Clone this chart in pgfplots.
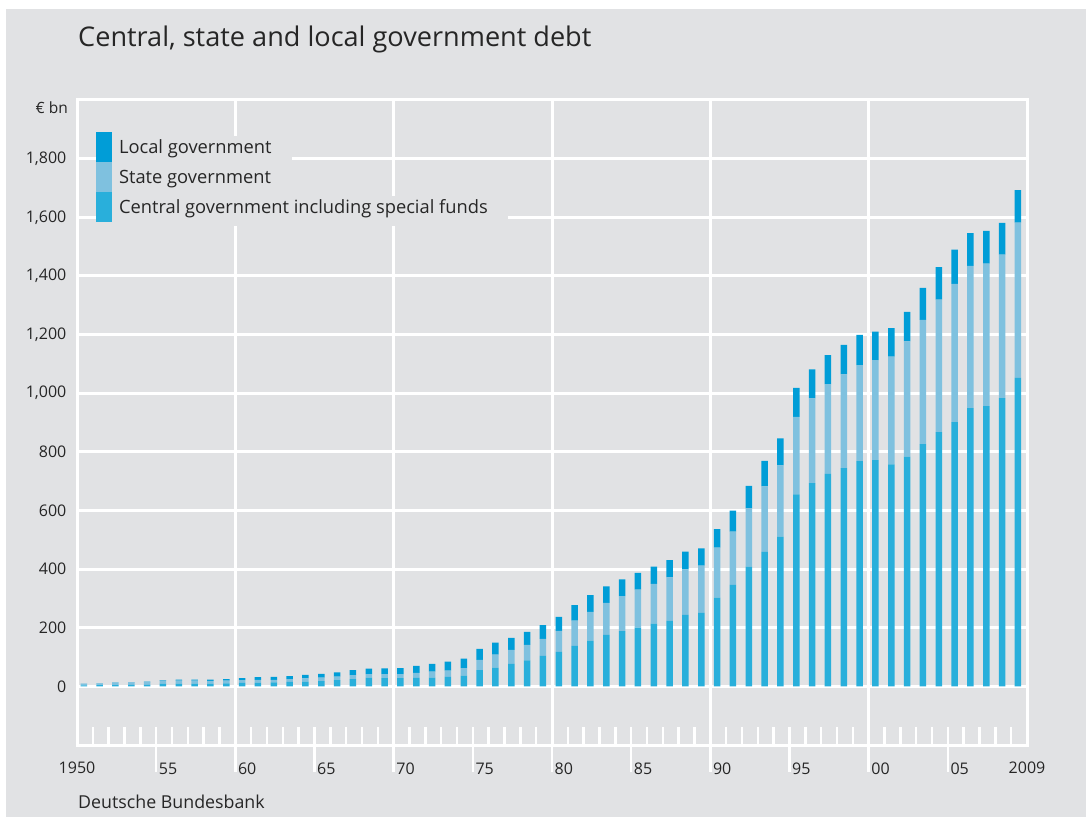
\documentclass[border=0pt]{standalone}
\usepackage{fontspec}
\setmainfont{Open Sans}
\usepackage{pgfplots}
\usepackage{pgfplotstable}
\pgfplotsset{compat=1.18}
\definecolor{bgc}{HTML}{E1E2E4}
\definecolor{cen}{HTML}{29AFDB}
\definecolor{sta}{HTML}{7FC1DF}
\definecolor{loc}{HTML}{009DD7}
\definecolor{txt}{HTML}{262626}
\pgfplotsset{leg/.style={legend image code/.code={\fill[##1,draw=none,overlay] (0pt,-10.4pt) rectangle (16pt,19.6pt); \path (0pt,0pt) rectangle (16pt,0pt);}}}
\pgfplotstableread{
year central state local
1950 3.5 5.5 0.5
1951 4 5.5 0.5
1952 4.5 7 1
1953 5 8.5 1.3
1954 5.5 9 1.5
1955 9 10.5 2
1956 9.5 10.5 2.7
1957 9.5 10 3.2
1958 9.5 9.5 4
1959 10.5 9 5.5
1960 12 9 7
1961 13 9.5 9
1962 13.5 9 9.5
1963 15 9.5 10.5
1964 16.5 10.5 12.5
1965 18 11.5 12.7
1966 21.6 11.4 14.8
1967 25 13.7 17.1
1968 29.5 12.6 18.2
1969 28.4 13.7 19.4
1970 28 14 20
1971 29 17 23.5
1972 30 20 26.3
1973 32 21.5 30.8
1974 36.4 26.2 32
1975 55.8 34.2 37.7
1976 63.8 44.5 41
1977 76.3 47.9 41.1
1978 89 52.3 44.5
1979 103.7 58.2 46.8
1980 118 71 48
1981 138 86 53
1982 156 98 57
1983 176 109 56
1984 188 120 57
1985 200 130 57
1986 214 136 58
1987 223 149 59
1988 244 155 61
1989 251 161 59
1990 303 170 63
1991 346 182 71
1992 408 199 77
1993 459 223 87
1994 511 243 92
1995 655 264 99
1996 693 289 99
1997 725 306 99
1998 744 320 101
1999 768 328 103
2000 772 341 97
2001 757 368 97
2002 784 393 100
2003 826 424 109
2004 867 452 111
2005 901 472 117
2006 949 485 112
2007 956 486 112
2008 983 490 108
2009 1052 530 111
}\debt
\begin{document}
\begin{tikzpicture}[x=1pt,y=1pt]
\fill[white] (0,0) rectangle (1086,817);
\fill[bgc] (6,0) rectangle (1086,808);
\node[anchor=base west, inner sep=0pt, text=txt, font=\fontsize{27.1}{32}\selectfont] at (78,770) {Central, state and local government debt};
\node[anchor=base west, inner sep=0pt, text=txt, font=\fontsize{17.8}{21}\selectfont] at (78,8.7) {Deutsche Bundesbank};
\node[anchor=east, inner sep=0pt, text=txt, font=\fontsize{15.5}{18}\selectfont] at (68,709) {€ bn};
\begin{axis}[
  at={(77pt,72pt)}, anchor=south west,
  scale only axis, width=950pt, height=645pt,
  xmin=1950, xmax=2010, ymin=-200, ymax=2000,
  axis background/.style={fill=bgc},
  axis line style={draw=white, line width=3pt},
  ybar stacked, bar width=6.5pt,
  ytick={0,200,...,1800},
  ymajorgrids, xmajorgrids,
  grid style={draw=white, line width=3pt},
  xtick={1960,1970,1980,1990,2000},
  xticklabels={60,70,80,90,00},
  extra x ticks={1955,1965,1975,1985,1995,2005},
  extra x tick labels={55,65,75,85,95,05},
  extra x tick style={grid=none},
  minor xtick={1951,...,2009},
  xtick pos=left, ytick pos=left,
  tick align=center,
  major tick length=27pt, minor tick length=18pt,
  every major x tick/.append style={yshift=-13.5pt},
  every minor x tick/.append style={yshift=9pt},
  tick style={draw=white, line width=2.5pt},
  ytick style={draw=none},
  every tick label/.append style={text=txt, font=\fontsize{16}{19}\selectfont},
  xticklabel style={anchor=west, inner sep=0pt, xshift=2.5pt, yshift=-10pt},
  yticklabel style={anchor=east, inner sep=0pt, xshift=3pt},
  /pgf/number format/assume math mode=true,
  /pgf/number format/1000 sep={,},
  legend style={at={(0.02,0.9435)}, anchor=north west, draw=none, fill=none,
    inner sep=0pt, outer sep=0pt, row sep=0pt, column sep=0pt,
    font=\fontsize{18.3}{22}\selectfont, text=txt,
    nodes={fill=bgc, inner sep=0pt, outer sep=0pt, minimum height=30pt, text height=0.75em, text depth=0.25em}},
  legend cell align=left,
  reverse legend,
  clip=false,
]
\addplot[fill=cen, draw=none, bar shift=6.8pt, leg] table[x=year, y=central] {\debt};
\addlegendentry{\hspace*{7pt}Central government including special funds\hspace*{20pt}}
\addplot[fill=sta, draw=none, bar shift=6.8pt, leg] table[x=year, y=state] {\debt};
\addlegendentry{\hspace*{7pt}State government\hspace*{20pt}}
\addplot[fill=loc, draw=none, bar shift=6.8pt, leg] table[x=year, y=local] {\debt};
\addlegendentry{\hspace*{7pt}Local government\hspace*{20pt}}
\node[anchor=center, inner sep=0pt, text=txt, font=\fontsize{16}{19}\selectfont] at (axis cs:1950,-200) [yshift=-23pt] {1950};
\node[anchor=center, inner sep=0pt, text=txt, font=\fontsize{16}{19}\selectfont] at (axis cs:2010,-200) [yshift=-23pt] {2009};
\end{axis}
\pgfresetboundingbox
\path (0,0) rectangle (1086,817);
\end{tikzpicture}
\end{document}
